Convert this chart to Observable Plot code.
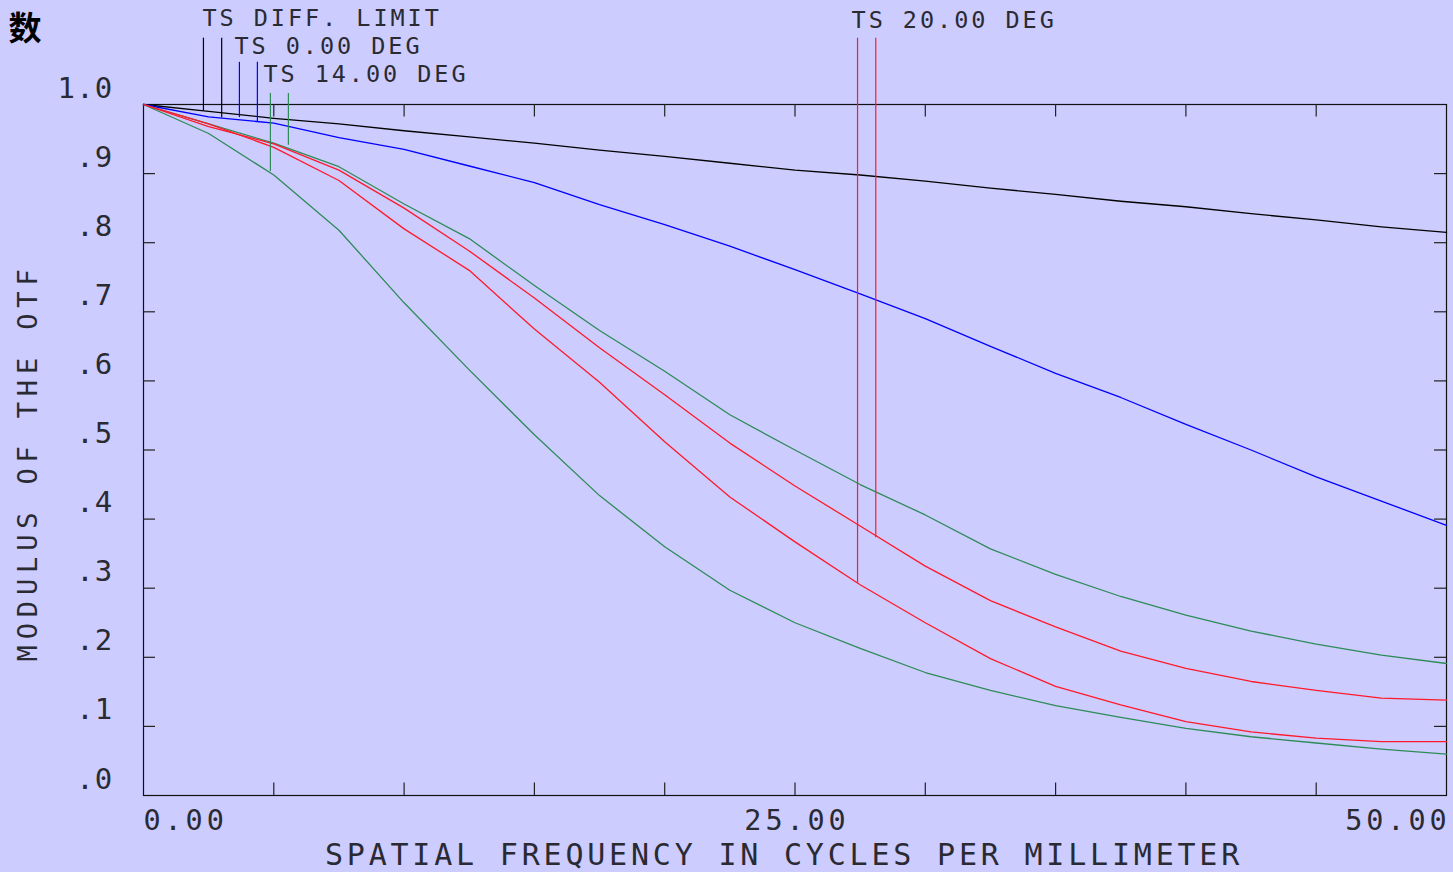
<!DOCTYPE html>
<html>
<head>
<meta charset="utf-8">
<script src="https://cdn.jsdelivr.net/npm/d3@7"></script>
<script src="https://cdn.jsdelivr.net/npm/@observablehq/plot@0.6"></script>
<style>
  html, body { margin: 0; padding: 0; background: #ccccff; overflow: hidden; }
  #chart svg { display: block; overflow: visible; }
  #chart g[font-size="23.5"] text { letter-spacing: 2.95px; }
  #chart g[font-size="28.5"] text { letter-spacing: 3.9px; }
  #chart g[font-size="29"] text { letter-spacing: 1.2px; }
  #chart g[font-size="30"] text { letter-spacing: 3.8px; }
  #chart g[font-size="27"] text { letter-spacing: 5.85px; }
</style>
</head>
<body>
<div id="chart"></div>
<script>
// ---- Data ----
const freq = [0, 2.5, 5, 7.5, 10, 12.5, 15, 17.5, 20, 22.5, 25, 27.5, 30, 32.5, 35, 37.5, 40, 42.5, 45, 47.5, 50];

const diffLimit = [1.000, 0.990, 0.980, 0.972, 0.962, 0.953, 0.944, 0.934, 0.925, 0.915, 0.905, 0.898, 0.889, 0.879, 0.870, 0.860, 0.852, 0.842, 0.833, 0.823, 0.815];
const ts0      = [1.000, 0.982, 0.973, 0.952, 0.935, 0.911, 0.887, 0.855, 0.826, 0.795, 0.761, 0.726, 0.690, 0.650, 0.611, 0.576, 0.537, 0.500, 0.461, 0.426, 0.391];
const ts14a    = [1.000, 0.972, 0.944, 0.910, 0.856, 0.806, 0.738, 0.673, 0.614, 0.551, 0.500, 0.450, 0.406, 0.357, 0.320, 0.288, 0.261, 0.238, 0.219, 0.203, 0.191];
const ts14b    = [1.000, 0.958, 0.898, 0.818, 0.713, 0.616, 0.522, 0.434, 0.360, 0.297, 0.250, 0.213, 0.178, 0.152, 0.130, 0.113, 0.097, 0.085, 0.076, 0.067, 0.060];
const ts20a    = [1.000, 0.968, 0.943, 0.905, 0.850, 0.788, 0.720, 0.648, 0.580, 0.510, 0.448, 0.390, 0.332, 0.282, 0.244, 0.209, 0.184, 0.165, 0.152, 0.141, 0.138];
const ts20b    = [1.000, 0.972, 0.938, 0.890, 0.820, 0.760, 0.675, 0.598, 0.512, 0.432, 0.367, 0.305, 0.250, 0.198, 0.158, 0.131, 0.107, 0.092, 0.083, 0.078, 0.078];

const seriesNames  = ["diff", "ts0", "ts14a", "ts14b", "ts20a", "ts20b"];
const seriesValues = [diffLimit, ts0, ts14a, ts14b, ts20a, ts20b];
const seriesColors = ["#000000", "#0000ff", "#2e8b57", "#2e8b57", "#ff1a2a", "#ff1a2a"];

// legend labels and their marker lines
const legendLabels = ["TS DIFF. LIMIT", "TS 0.00 DEG", "TS 14.00 DEG", "TS 20.00 DEG"];
const legendFreq   = [2.26, 3.49, 4.60, 27.17];
const legendLevel  = [1.113, 1.073, 1.032, 1.111];

const markerFreq   = [2.30, 3.00, 3.68, 4.37, 4.87, 5.56, 27.40, 28.10];
const markerTop    = [1.096, 1.096, 1.061, 1.061, 1.016, 1.016, 1.096, 1.096];
const markerBottom = [0.991, 0.981, 0.981, 0.974, 0.903, 0.941, 0.307, 0.373];
const markerColors = ["#000000", "#000000", "#0000ff", "#0000ff", "#2e8b57", "#2e8b57", "#ff1a2a", "#ff1a2a"];

// axes
const yTickValues = [0.1, 0.2, 0.3, 0.4, 0.5, 0.6, 0.7, 0.8, 0.9];
const yLabelValues = [1.0, 0.9, 0.8, 0.7, 0.6, 0.5, 0.4, 0.3, 0.2, 0.1, 0.0];
const yLabelTexts  = ["1.0", ".9", ".8", ".7", ".6", ".5", ".4", ".3", ".2", ".1", ".0"];
const xTickValues = [5, 10, 15, 20, 25, 30, 35, 40, 45];
const xLabelValues = [0, 25, 50];
const xLabelTexts  = ["0.00", "25.00", "50.00"];
const xTitle = "SPATIAL FREQUENCY IN CYCLES PER MILLIMETER";
const yTitle = "MODULUS OF THE OTF";
const topTitle = "数";

// ---- Build tables ----
const rows = [];
seriesNames.forEach((s, i) => {
  freq.forEach((f, j) => rows.push({series: s, freq: f, mtf: seriesValues[i][j], color: seriesColors[i]}));
});
const markers = markerFreq.map((f, i) => ({f, top: markerTop[i], bottom: markerBottom[i], color: markerColors[i]}));
const legend = legendLabels.map((t, i) => ({t, f: legendFreq[i], v: legendLevel[i]}));
const yLabels = yLabelValues.map((v, i) => ({v, t: yLabelTexts[i]}));
const xLabels = xLabelValues.map((v, i) => ({v, t: xLabelTexts[i]}));

const tickLenX = 0.46;   // in frequency units
const tickLenY = 0.018;  // in modulus units
const textColor = "#2a2a33";

const chart = Plot.plot({
  width: 1453,
  height: 872,
  marginLeft: 143,
  marginRight: 7,
  marginTop: 104,
  marginBottom: 77,
  x: {domain: [0, 50], axis: null},
  y: {domain: [0, 1], axis: null},
  color: {type: "identity"},
  style: {background: "transparent", fontFamily: "'DejaVu Sans Mono', monospace", overflow: "visible"},
  marks: [
    Plot.frame({stroke: "#111", strokeWidth: 1.2}),
    // ticks (inward)
    Plot.ruleY(yTickValues, {x1: 0, x2: tickLenX, stroke: "#222", strokeWidth: 1.2}),
    Plot.ruleY(yTickValues, {x1: 50 - tickLenX, x2: 50, stroke: "#222", strokeWidth: 1.2}),
    Plot.ruleX(xTickValues, {y1: 0, y2: tickLenY, stroke: "#222", strokeWidth: 1.2}),
    Plot.ruleX(xTickValues, {y1: 1 - tickLenY, y2: 1, stroke: "#222", strokeWidth: 1.2}),
    // curves
    Plot.line(rows, {x: "freq", y: "mtf", z: "series", stroke: "color", strokeWidth: 1.3}),
    // legend marker lines
    Plot.ruleX(markers, {x: "f", y1: "bottom", y2: "top", stroke: "color", strokeWidth: 1.2}),
    // legend labels
    Plot.text(legend, {x: "f", y: "v", text: "t", textAnchor: "start", lineAnchor: "bottom", fontSize: 23.5, fill: textColor}),
    // y tick labels
    Plot.text(yLabels, {x: 0, y: "v", text: "t", textAnchor: "end", lineAnchor: "bottom", dx: -30, dy: -7, fontSize: 29, fill: textColor}),
    // x tick labels
    Plot.text(xLabels.slice(0, 1), {x: "v", y: 0, text: "t", textAnchor: "start", lineAnchor: "bottom", dy: 34, fontSize: 28.5, fill: textColor}),
    Plot.text(xLabels.slice(1, 2), {x: "v", y: 0, text: "t", textAnchor: "middle", lineAnchor: "bottom", dy: 34, dx: 2, fontSize: 28.5, fill: textColor}),
    Plot.text(xLabels.slice(2, 3), {x: "v", y: 0, text: "t", textAnchor: "end", lineAnchor: "bottom", dy: 34, dx: 4, fontSize: 28.5, fill: textColor}),
    // axis titles
    Plot.text([xTitle], {x: 25, y: 0, text: d => d, textAnchor: "middle", lineAnchor: "bottom", dx: -11, dy: 69, fontSize: 30, fill: textColor}),
    Plot.text([yTitle], {x: 0, y: 0.482, text: d => d, textAnchor: "middle", lineAnchor: "bottom", rotate: -90, dx: -107, fontSize: 27, fill: textColor}),
    // title glyph at the top left
    Plot.text([topTitle], {frameAnchor: "top-left", text: d => d, textAnchor: "start", lineAnchor: "bottom", dx: -135, dy: -65, fontSize: 33, fontWeight: "bold", fontFamily: "'Noto Sans CJK SC'", fill: "#000"})
  ]
});
document.getElementById("chart").appendChild(chart);
</script>
</body>
</html>
